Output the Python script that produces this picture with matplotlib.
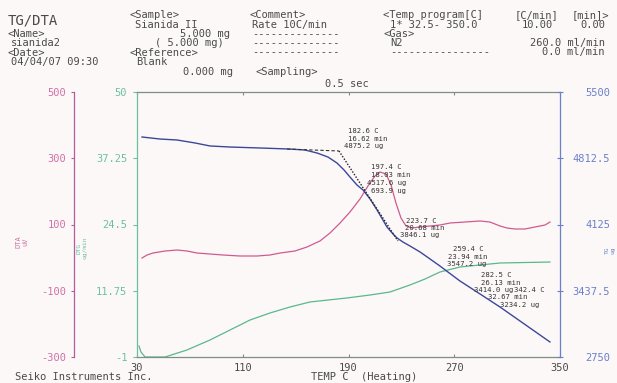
import matplotlib
matplotlib.use('Agg')
import matplotlib.pyplot as plt

plt.rcParams['font.family'] = ['DejaVu Sans Mono']

# ---------------- data ----------------
temp_ticks = [30, 110, 190, 270, 350]
dta_ticks = [-300, -100, 100, 300, 500]
dta_ticklabels = ['-300', '-100', '100', '300', '500']
dtg_ticks = [-1, 11.75, 24.5, 37.25, 50]
dtg_ticklabels = ['-1', '11.75', '24.5', '37.25', '50']
tg_ticks = [2750, 3437.5, 4125, 4812.5, 5500]
tg_ticklabels = ['2750', '3437.5', '4125', '4812.5', '5500']

tg_T = [33.8, 47.4, 60.3, 73.9, 85.2, 100.4, 123.0, 145.7, 157.1, 166.2, 174.5,
        181.3, 186.6, 191.1, 196.4, 201.0, 206.3, 211.6, 219.1, 223.7, 226.7,
        231.2, 236.5, 244.1, 251.7, 259.2, 274.3, 289.5, 304.6, 319.7, 342.4]
tg_ug = [5033, 5012, 5002, 4971, 4940, 4929, 4919, 4908, 4898, 4867, 4825,
         4763, 4691, 4618, 4535, 4483, 4390, 4276, 4099, 4026, 3985,
         3943, 3902, 3840, 3767, 3694, 3539, 3404, 3269, 3124, 2906]

dta_T = [33.8, 37.6, 42.1, 51.2, 60.3, 67.8, 75.4, 85.2, 95.1, 107.9, 120.8,
         130.6, 138.2, 149.5, 158.6, 168.4, 176.0, 183.6, 191.1, 198.7, 204.7,
         210.0, 213.8, 218.4, 222.2, 225.9, 229.7, 233.5, 238.0, 244.1, 251.7,
         259.2, 266.8, 278.1, 289.5, 297.0, 304.6, 309.9, 316.0, 323.5, 331.1,
         338.7, 342.4]
dta_uV = [-1.1, 7.9, 13.9, 20.0, 23.0, 20.0, 13.9, 10.9, 7.9, 4.9, 4.9,
          7.9, 13.9, 20.0, 32.1, 50.2, 74.3, 104.5, 137.7, 177.0, 216.2,
          246.4, 258.5, 252.5, 219.2, 164.9, 119.6, 95.5, 89.4, 92.5, 95.5,
          98.5, 104.5, 107.5, 110.6, 107.5, 95.5, 89.4, 86.4, 86.4, 92.5,
          98.5, 107.5]

dtg_T = [31.5, 33.0, 36.1, 51.2, 67.8, 85.2, 100.4, 115.5, 130.6, 145.7, 160.9,
         188.9, 206.3, 221.4, 236.5, 247.9, 259.2, 274.3, 289.5, 304.6, 342.4]
dtg_val = [1.12, -0.04, -1.0, -1.0, 0.35, 2.27, 4.20, 6.12, 7.47, 8.62, 9.59,
           10.36, 10.93, 11.51, 12.86, 14.01, 15.36, 16.32, 16.71, 17.09, 17.28]

base_T = [143.5, 182.8]
base_ug = [4908, 4888]
tan_T = [182.8, 227.4]
tan_ug = [4888, 3954]

# ---------------- figure ----------------
W, H = 617, 383
BG = '#fcf8f8'
fig = plt.figure(figsize=(W / 100, H / 100), dpi=100)
fig.patch.set_facecolor(BG)


def px(x):
    return x / W


def py(y):
    return 1 - y / H


L, R, T, B = 137, 560, 92, 357
ax = fig.add_axes([px(L), py(B), (R - L) / W, (B - T) / H])
ax.set_facecolor(BG)

PINK = '#d070a8'
PINK_LINE = '#d05a90'
GREEN = '#6cc0a0'
GREEN_LINE = '#5ab88a'
BLUE = '#6a80c8'
BLUE_LINE = '#3a4898'
GREY = '#7f8f88'
TXT = '#4a4a4a'

# green DTG on host axes
ax.set_xlim(30, 350)
ax.set_ylim(-1, 50)
ax.plot(dtg_T, dtg_val, color=GREEN_LINE, lw=0.9)
ax.set_xticks(temp_ticks)
ax.set_xticklabels([str(t) for t in temp_ticks])
ax.set_yticks(dtg_ticks)
ax.set_yticklabels(dtg_ticklabels)
ax.tick_params(axis='x', direction='in', length=2.5, top=True, bottom=True,
               color=GREY, labelcolor=TXT, labelsize=7.5, pad=4)
ax.tick_params(axis='y', direction='out', length=3, color=GREEN,
               labelcolor=GREEN, labelsize=7.5, pad=4)
ax.spines['left'].set_color(GREEN)
ax.spines['top'].set_color(GREY)
ax.spines['bottom'].set_color(GREY)
ax.spines['right'].set_visible(False)
for s in ax.spines.values():
    s.set_linewidth(0.9)

# pink DTA axis
axP = ax.twinx()
axP.set_ylim(-300, 500)
axP.yaxis.set_ticks_position('left')
axP.yaxis.set_label_position('left')
axP.spines['left'].set_position(('axes', (74 - L) / (R - L)))
axP.spines['left'].set_visible(True)
axP.spines['left'].set_color('#b85aa0')
axP.spines['left'].set_linewidth(0.9)
for s in ['right', 'top', 'bottom']:
    axP.spines[s].set_visible(False)
axP.set_yticks(dta_ticks)
axP.set_yticklabels(dta_ticklabels)
axP.tick_params(axis='y', direction='out', length=2, color='#b85aa0',
                labelcolor=PINK, labelsize=7.5, pad=3.5)
axP.plot(dta_T, dta_uV, color=PINK_LINE, lw=0.9)

# blue TG axis
axB = ax.twinx()
axB.set_ylim(2750, 5500)
for s in ['left', 'top', 'bottom']:
    axB.spines[s].set_visible(False)
axB.spines['right'].set_color(BLUE)
axB.spines['right'].set_linewidth(0.9)
axB.set_yticks(tg_ticks)
axB.set_yticklabels(tg_ticklabels)
axB.tick_params(axis='y', direction='inout', length=4, color=BLUE,
                labelcolor=BLUE, labelsize=7.5, pad=34)
for lbl in axB.get_yticklabels():
    lbl.set_horizontalalignment('right')
axB.plot(tg_T, tg_ug, color=BLUE_LINE, lw=1.0)
axB.plot(base_T, base_ug, color='#333333', lw=0.8, ls=(0, (3, 2)))
axB.plot(tan_T, tan_ug, color='#222222', lw=1.0, ls=(0, (1, 1.2)))


def txt(x, y, s, size=7.5, color=TXT, **kw):
    fig.text(px(x), py(y), s, fontsize=size, color=color, va='center',
             ha=kw.pop('ha', 'left'), **kw)


# header
txt(8, 21, 'TG/DTA', size=10)
txt(8, 34, '<Name>')
txt(11, 43, 'sianida2')
txt(8, 53, '<Date>')
txt(11, 62, '04/04/07 09:30')
txt(130, 15, '<Sample>')
txt(135, 25, 'Sianida II')
txt(180, 34, '5.000 mg')
txt(155, 43, '( 5.000 mg)')
txt(130, 53, '<Reference>')
txt(136, 62, 'Blank')
txt(183, 72, '0.000 mg')
txt(250, 15, '<Comment>')
txt(252, 25, 'Rate 10C/min')
for yy in (34, 43, 52):
    txt(252, yy, '-' * 14)
txt(255, 72, '<Sampling>')
txt(325, 84, '0.5 sec')
txt(383, 15, '<Temp program[C]')
txt(515, 15, '[C/min]')
txt(609, 15, '[min]>', ha='right')
txt(390, 25, '1* 32.5- 350.0')
txt(522, 25, '10.00')
txt(605, 25, '0.00', ha='right')
txt(383, 34, '<Gas>')
txt(390, 43, 'N2')
txt(605, 43, '260.0 ml/min', ha='right')
txt(390, 52, '-' * 16)
txt(605, 52, '0.0 ml/min', ha='right')

# footer
txt(15, 377, 'Seiko Instruments Inc.')
txt(311, 377, 'TEMP C  (Heating)')

# axis labels (rotated)
txt(22, 242, 'DTA\nuV', size=5, color=PINK, rotation=90, ha='center')
txt(82, 248, 'DTG\nug/min', size=4.5, color=GREEN, rotation=90, ha='center')
txt(610, 250, 'TG\nug', size=4.5, color=BLUE, rotation=90, ha='center')

# annotations
A = 5.2
ann = [
    (348, 131, '182.6 C'), (348, 139, '16.62 min'), (344, 146, '4875.2 ug'),
    (371, 167, '197.4 C'), (371, 175, '18.03 min'), (367, 183, '4517.6 ug'),
    (371, 191, '693.9 ug'),
    (406, 221, '223.7 C'), (405, 228, '20.68 min'), (400, 235, '3846.1 ug'),
    (453, 249, '259.4 C'), (448, 257, '23.94 min'), (447, 264, '3547.2 ug'),
    (481, 275, '282.5 C'), (481, 283, '26.13 min'), (474, 290, '3414.0 ug'),
    (514, 290, '342.4 C'), (488, 297, '32.67 min'), (500, 305, '3234.2 ug'),
]
for x, y, s in ann:
    txt(x, y, s, size=A, color='#333333')

fig.savefig('out.png', dpi=100, facecolor=BG)
